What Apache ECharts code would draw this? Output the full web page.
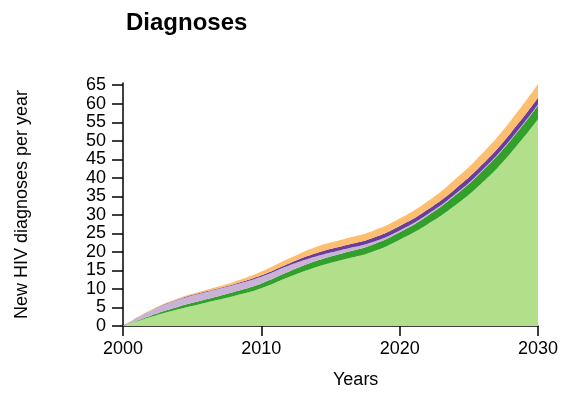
<!DOCTYPE html>
<html>
<head>
<meta charset="utf-8">
<script src="https://cdn.jsdelivr.net/npm/echarts@6/dist/echarts.min.js"></script>
<style>
  html, body { margin: 0; padding: 0; background: #fff; }
  #chart { width: 561px; height: 396px; }
</style>
</head>
<body>
<div id="chart"></div>
<script>
// years sampled along the x axis
var years = ['2000', '2002', '2004', '2006', '2008', '2010', '2012', '2014', '2016', '2018', '2020', '2022', '2024', '2026', '2028', '2030'];

// stacked layers, bottom to top (new diagnoses per year)
var layerLightGreen  = [0, 2.4, 4.5, 6.3, 8.1, 10.2, 13.2, 15.9, 18.0, 20.0, 23.3, 27.4, 32.5, 38.8, 46.6, 55.8];
var layerDarkGreen   = [0, 0.4, 0.7, 0.9, 1.1, 1.3, 1.5, 1.7, 1.8, 1.9, 2.0, 2.3, 2.7, 3.1, 3.4, 3.7];
var layerLightPurple = [0, 1.3, 1.9, 2.0, 1.9, 1.8, 1.6, 1.2, 0.9, 0.7, 0.5, 0.4, 0.35, 0.3, 0.3, 0.3];
var layerDarkPurple  = [0, 0.05, 0.1, 0.15, 0.2, 0.4, 0.6, 0.9, 1.0, 1.1, 1.2, 1.3, 1.4, 1.5, 1.7, 1.8];
var layerOrange      = [0, 0.15, 0.3, 0.4, 0.6, 1.0, 1.3, 1.7, 1.8, 1.9, 2.0, 2.2, 2.6, 3.0, 3.3, 3.7];

var layers = [
    { name: 'l1', data: layerLightGreen,  color: '#b2df8a' },
    { name: 'l2', data: layerDarkGreen,   color: '#33a02c' },
    { name: 'l3', data: layerLightPurple, color: '#cab2d6' },
    { name: 'l4', data: layerDarkPurple,  color: '#6a3d9a' },
    { name: 'l5', data: layerOrange,      color: '#fdbf6f' }
];

var font = '"Liberation Sans", Arial, Helvetica, sans-serif';

var chart = echarts.init(document.getElementById('chart'), null, { renderer: 'canvas' });

var series = layers.map(function (l) {
    return {
        name: l.name,
        type: 'line',
        stack: 'total',
        smooth: 0.5,
        symbol: 'none',
        lineStyle: { width: 0 },
        areaStyle: { color: l.color, opacity: 1 },
        data: l.data
    };
});

// only every tenth year gets a tick and label
var everyTen = function (idx, val) { return Number(val) % 10 === 0; };

chart.setOption({
    animation: false,
    backgroundColor: '#fff',
    title: {
        text: 'Diagnoses',
        left: 121,
        top: 6,
        textStyle: { fontFamily: font, fontSize: 24, fontWeight: 'bold', color: '#000' }
    },
    grid: { left: 123, right: 22, top: 83, bottom: 70 },
    xAxis: {
        type: 'category',
        data: years,
        boundaryGap: false,
        splitLine: { show: false },
        axisLine: { lineStyle: { color: '#000', width: 1.5 } },
        axisTick: { length: 10, interval: everyTen, lineStyle: { color: '#000', width: 1.5 } },
        axisLabel: { color: '#000', fontFamily: font, fontSize: 18, margin: 14, interval: everyTen }
    },
    yAxis: {
        type: 'value',
        min: 0,
        max: 65.6,
        interval: 5,
        name: 'New HIV diagnoses per year',
        nameLocation: 'middle',
        nameGap: 92,
        nameTextStyle: { color: '#000', fontFamily: font, fontSize: 18 },
        splitLine: { show: false },
        axisLine: { show: true, lineStyle: { color: '#000', width: 1.5 } },
        axisTick: { show: true, length: 11, lineStyle: { color: '#000', width: 1.5 } },
        axisLabel: { color: '#000', fontFamily: font, fontSize: 18, margin: 17, showMaxLabel: false }
    },
    graphic: [
        {
            type: 'text',
            left: 333,
            top: 371,
            style: { text: 'Years', fill: '#000', font: '18px ' + font }
        }
    ],
    series: series
});
</script>
</body>
</html>
